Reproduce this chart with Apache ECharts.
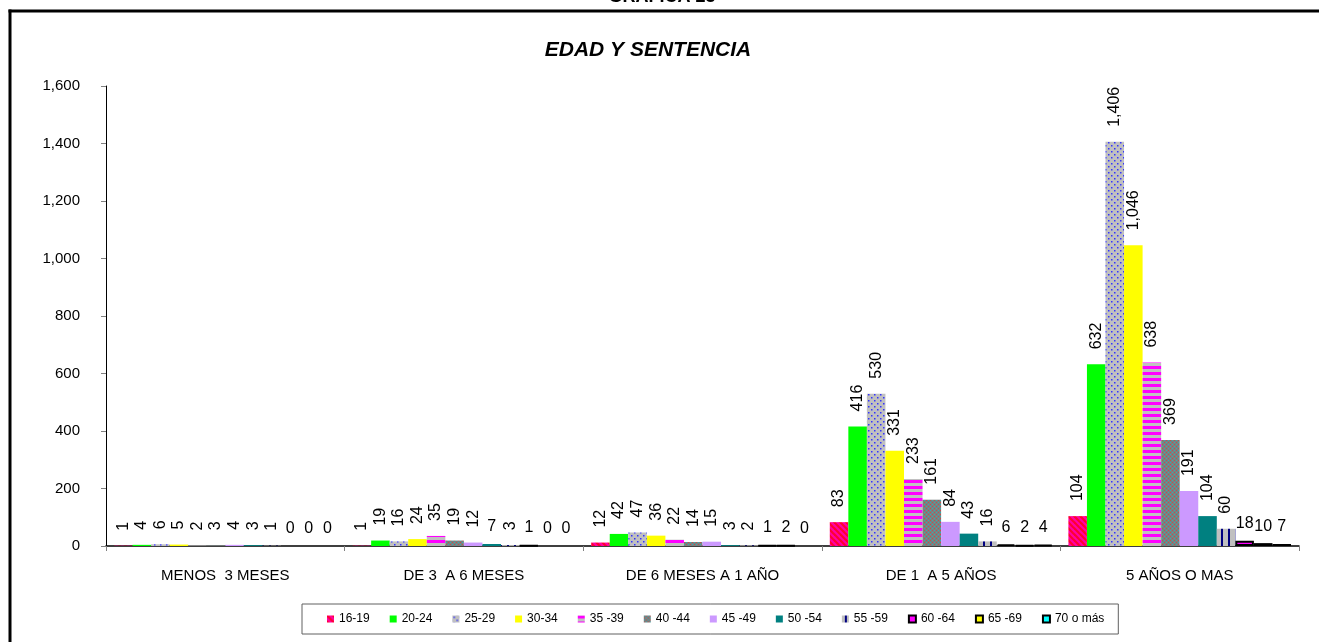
<!DOCTYPE html>
<html>
<head>
<meta charset="utf-8">
<script src="https://cdn.jsdelivr.net/npm/echarts@6/dist/echarts.min.js"></script>
<style>
  html, body { margin: 0; padding: 0; background: #fff; overflow: hidden; }
  #chart { width: 1319px; height: 642px; }
</style>
</head>
<body>
<div id="chart"></div>
<script>
const categories = ['MENOS  3 MESES', 'DE 3  A 6 MESES', 'DE 6 MESES A 1 AÑO', 'DE 1  A 5 AÑOS', '5 AÑOS O MAS']
const ageGroups = ['16-19', '20-24', '25-29', '30-34', '35 -39', '40 -44', '45 -49', '50 -54', '55 -59', '60 -64', '65 -69', '70 o más']

const age16_19 = [1, 1, 12, 83, 104]
const age20_24 = [4, 19, 42, 416, 632]
const age25_29 = [6, 16, 47, 530, 1406]
const age30_34 = [5, 24, 36, 331, 1046]
const age35_39 = [2, 35, 22, 233, 638]
const age40_44 = [3, 19, 14, 161, 369]
const age45_49 = [4, 12, 15, 84, 191]
const age50_54 = [3, 7, 3, 43, 104]
const age55_59 = [1, 3, 2, 16, 60]
const age60_64 = [0, 1, 1, 6, 18]
const age65_69 = [0, 0, 2, 2, 10]
const age70plus = [0, 0, 0, 4, 7]

const yTicks = [0, 200, 400, 600, 800, 1000, 1200, 1400, 1600]

const seriesValues = [age16_19, age20_24, age25_29, age30_34, age35_39, age40_44,
  age45_49, age50_54, age55_59, age60_64, age65_69, age70plus]

// labels drawn flat instead of rotated (as in the original sheet)
const flatSeries = [9, 10, 11]
const flatPoints = [[1, 7]] // [category, series]

const FONT = 'Liberation Sans, Arial, sans-serif'

function pattern(w, h, draw) {
  const c = document.createElement('canvas')
  c.width = w
  c.height = h
  const ctx = c.getContext('2d')
  draw(ctx, w, h)
  return { image: c, repeat: 'repeat' }
}

const fills = [
  // 16-19 diagonal stripes
  pattern(6, 6, (ctx) => {
    ctx.fillStyle = '#ff00a8'
    ctx.fillRect(0, 0, 6, 6)
    ctx.strokeStyle = '#ff0030'
    ctx.lineWidth = 2.2
    for (let k = -1; k <= 1; k++) {
      ctx.beginPath()
      ctx.moveTo(k * 6 - 1, -1)
      ctx.lineTo(k * 6 + 7, 7)
      ctx.stroke()
    }
  }),
  '#00ff00',
  // 25-29 dots
  pattern(6, 6, (ctx) => {
    ctx.fillStyle = '#c0c0c0'
    ctx.fillRect(0, 0, 6, 6)
    ctx.fillStyle = '#3333ff'
    ctx.fillRect(1, 1, 1.5, 1.5)
    ctx.fillRect(4, 4, 1.5, 1.5)
  }),
  '#ffff00',
  // 35-39 horizontal stripes
  pattern(6, 6, (ctx) => {
    ctx.fillStyle = '#c0c0c0'
    ctx.fillRect(0, 0, 6, 6)
    ctx.fillStyle = '#ff00ff'
    ctx.fillRect(0, 0, 6, 3)
  }),
  // 40-44 checker
  pattern(4, 4, (ctx) => {
    ctx.fillStyle = '#7a8080'
    ctx.fillRect(0, 0, 4, 4)
    ctx.fillStyle = '#30b0b0'
    ctx.fillRect(0, 0, 1, 1)
    ctx.fillRect(2, 2, 1, 1)
    ctx.fillStyle = '#c05050'
    ctx.fillRect(2, 0, 1, 1)
    ctx.fillRect(0, 2, 1, 1)
  }),
  '#cc99ff',
  '#008080',
  // 55-59 vertical stripes
  pattern(7, 7, (ctx) => {
    ctx.fillStyle = '#c0c0c0'
    ctx.fillRect(0, 0, 7, 7)
    ctx.fillStyle = '#000080'
    ctx.fillRect(3, 0, 2, 7)
  }),
  '#ff00ff',
  '#ffff00',
  '#00ffff'
]

const bordered = [9, 10, 11]

const fmt = (v) => Number(v).toLocaleString('en-US')

const series = ageGroups.map((name, si) => ({
  name: name,
  type: 'bar',
  barGap: '0%',
  barCategoryGap: '6.7%',
  itemStyle: {
    color: fills[si],
    borderColor: '#000',
    borderWidth: bordered.includes(si) ? 2 : 0
  },
  label: {
    show: true,
    position: 'top',
    rotate: 90,
    align: 'left',
    verticalAlign: 'middle',
    distance: 15,
    color: '#000',
    fontSize: 16,
    fontFamily: FONT,
    formatter: (p) => fmt(p.value)
  },
  data: seriesValues[si].map((v, ci) => {
    const item = { value: v }
    const flat = flatSeries.includes(si) || flatPoints.some(([c, s]) => c === ci && s === si)
    if (flat) {
      item.label = { rotate: 0, align: 'center', verticalAlign: 'bottom', distance: 9 }
    }
    if (v === 0) item.itemStyle = { borderWidth: 0 }
    return item
  })
}))

const chart = echarts.init(document.getElementById('chart'))
chart.setOption({
  animation: false,
  textStyle: { fontFamily: FONT },
  grid: { left: 106, right: 20, top: 86, bottom: 96 },
  graphic: [
    {
      type: 'line',
      shape: { x1: 10, y1: 700, x2: 10, y2: 9.5 },
      style: { stroke: '#000', lineWidth: 3 },
      silent: true
    },
    {
      type: 'line',
      shape: { x1: 8.5, y1: 11, x2: 1319, y2: 11 },
      style: { stroke: '#000', lineWidth: 3 },
      silent: true
    },
    {
      type: 'text',
      x: 662,
      y: -3,
      style: {
        text: 'GRAFICA 23',
        font: 'bold 18px ' + FONT,
        fill: '#000',
        align: 'center',
        verticalAlign: 'middle'
      }
    },
    {
      type: 'text',
      x: 648,
      y: 50,
      style: {
        text: 'EDAD Y SENTENCIA',
        font: 'italic bold 21px ' + FONT,
        fill: '#000',
        align: 'center',
        verticalAlign: 'middle'
      }
    }
  ],
  legend: {
    left: 302,
    top: 604,
    padding: [9, 14, 9, 25],
    icon: 'rect',
    itemWidth: 7,
    itemHeight: 7,
    itemGap: 20,
    borderColor: '#606060',
    borderWidth: 1,
    textStyle: { fontSize: 12, color: '#000', fontFamily: FONT },
    data: ageGroups
  },
  xAxis: {
    type: 'category',
    data: categories,
    axisLine: { lineStyle: { color: '#000', width: 1.5 } },
    axisTick: { show: true, length: 5, lineStyle: { color: '#808080' } },
    axisLabel: { color: '#000', fontSize: 15, margin: 22, fontFamily: FONT }
  },
  yAxis: {
    type: 'value',
    min: yTicks[0],
    max: yTicks[yTicks.length - 1],
    interval: yTicks[1] - yTicks[0],
    splitLine: { show: false },
    axisLine: { show: true, lineStyle: { color: '#000', width: 1 } },
    axisTick: { show: true, length: 5, lineStyle: { color: '#808080' } },
    axisLabel: { color: '#000', fontSize: 15, margin: 26, fontFamily: FONT, formatter: fmt }
  },
  series: series
})
</script>
</body>
</html>
